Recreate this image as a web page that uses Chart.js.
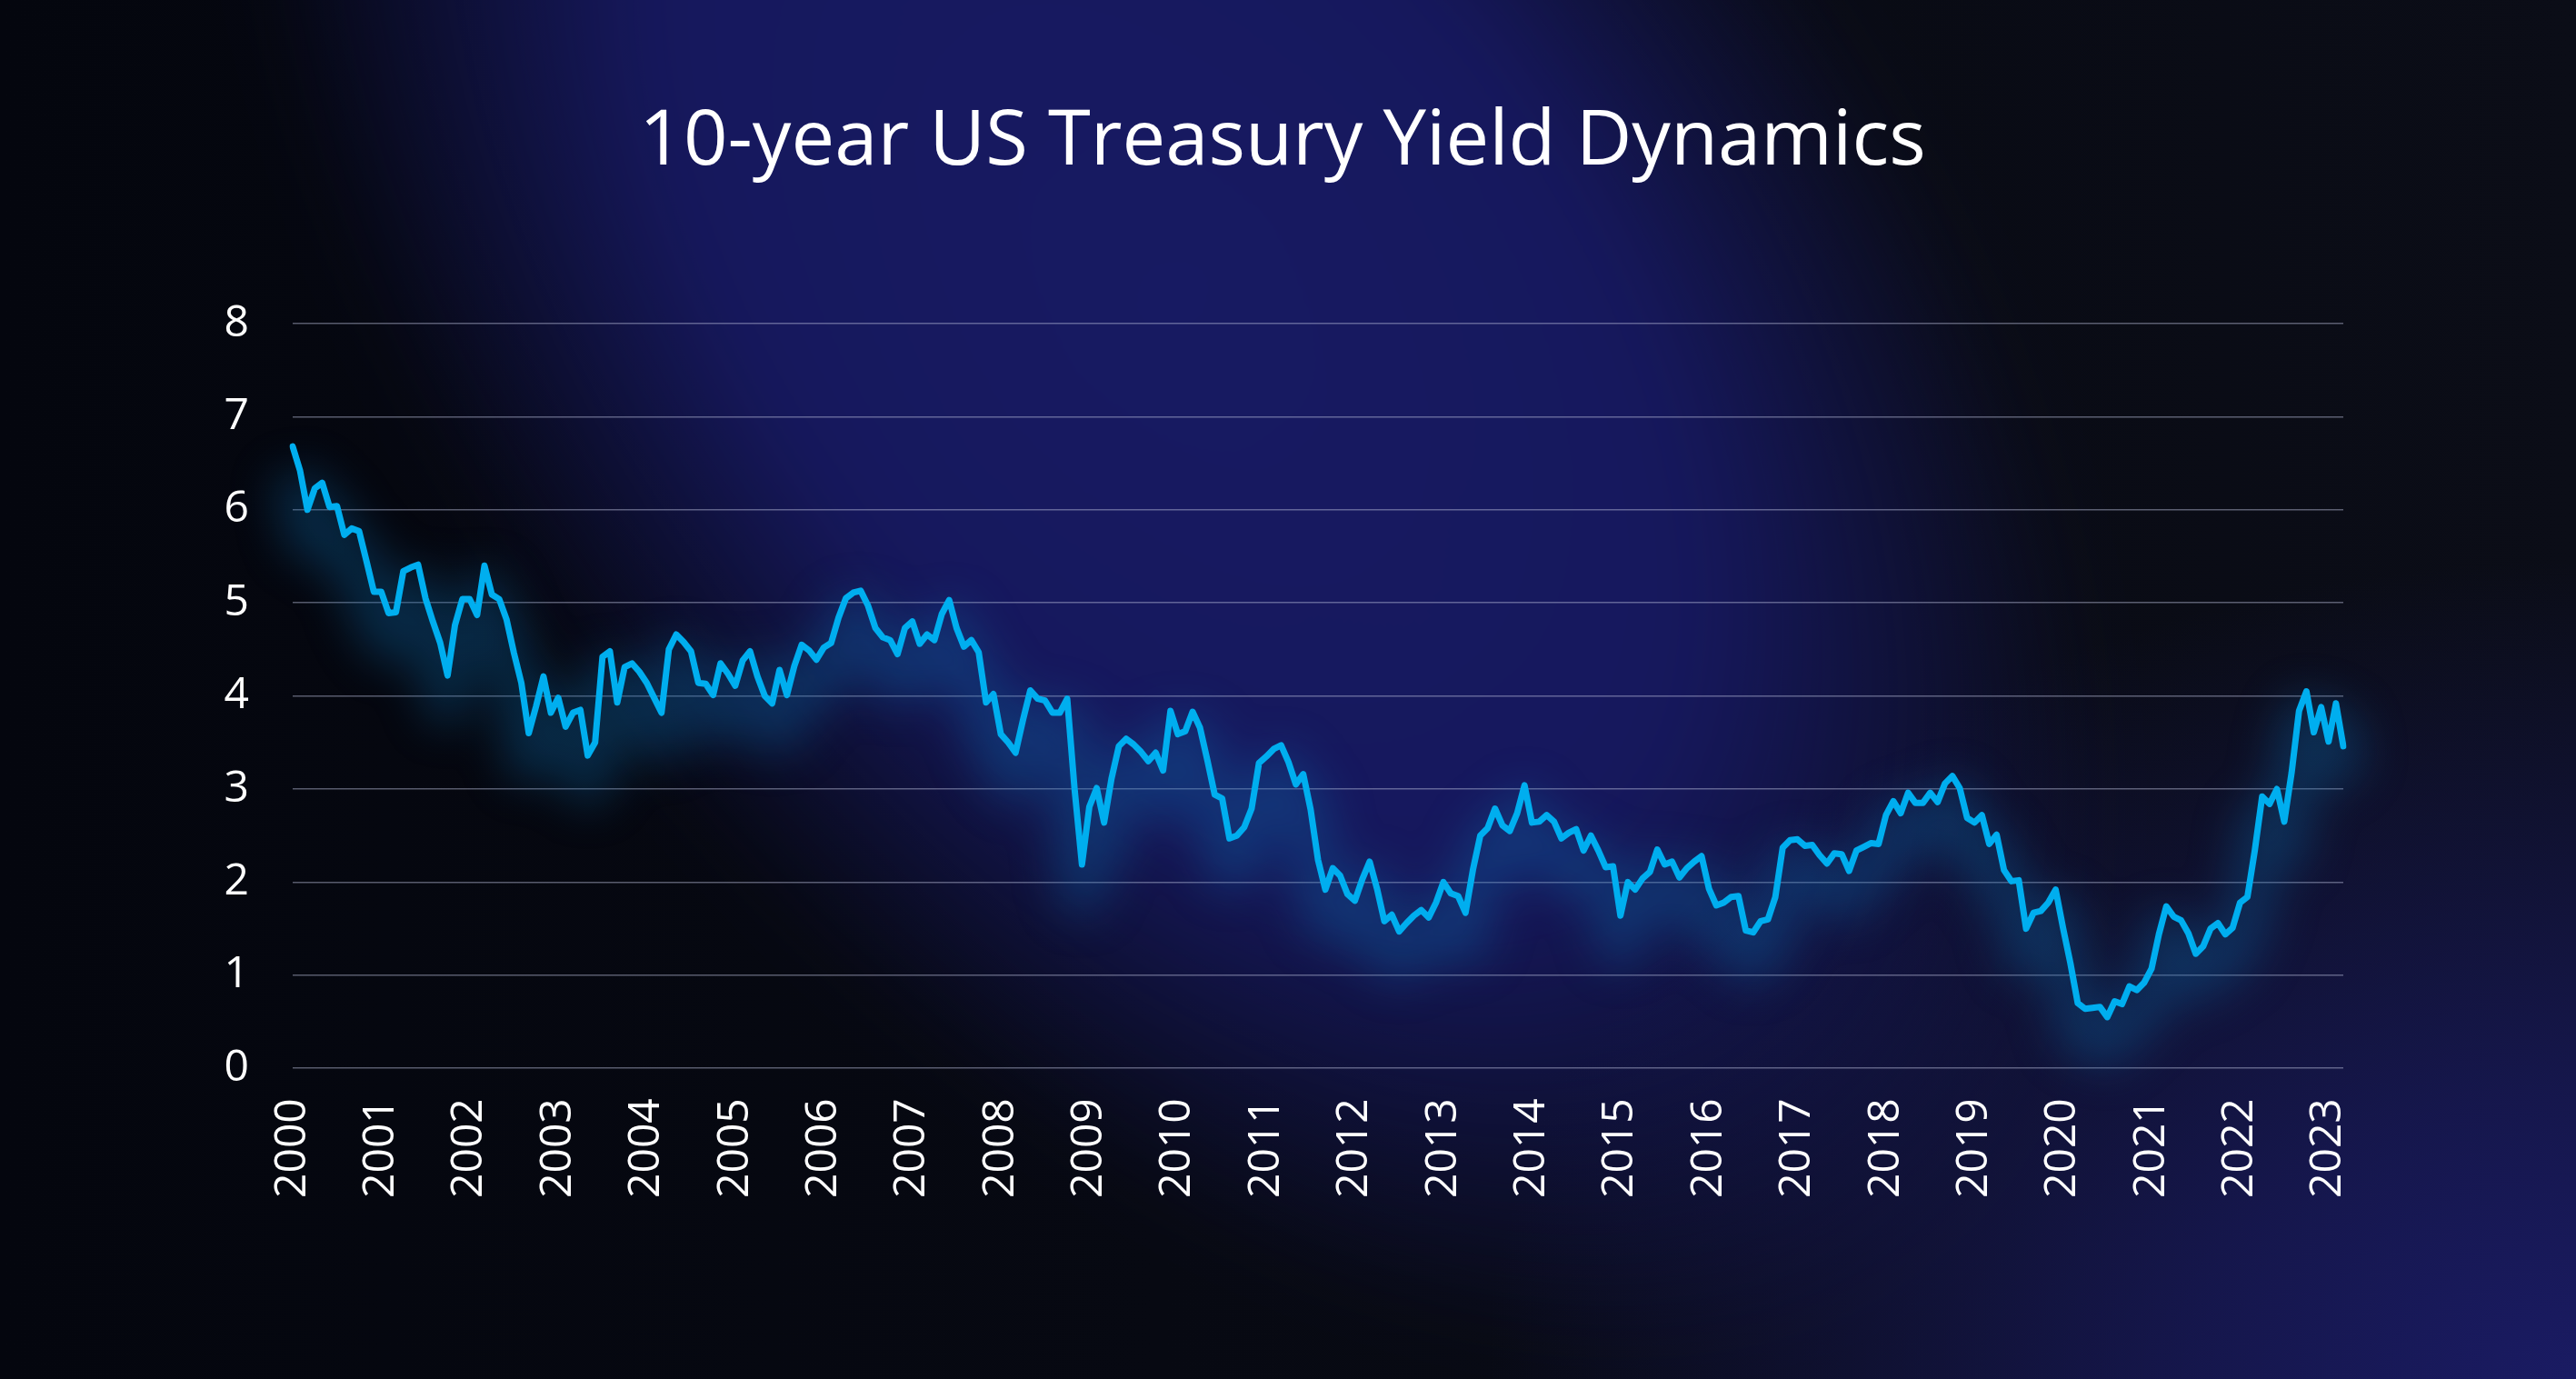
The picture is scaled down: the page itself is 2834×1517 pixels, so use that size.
<!DOCTYPE html>
<html>
<head>
<meta charset="utf-8">
<title>10-year US Treasury Yield Dynamics</title>
<script src="https://cdn.jsdelivr.net/npm/chart.js@4.4.0/dist/chart.umd.min.js"></script>
<style>
  html, body { margin: 0; padding: 0; background: #05070f; }
  #wrap {
    position: relative; width: 2834px; height: 1517px; overflow: hidden;
    background: linear-gradient(90deg, #04060e 0%, #070912 45%, #0b0d17 100%);
  }
  .band {
    position: absolute; left: -60px; top: -450px; width: 2700px; height: 1550px;
    background: radial-gradient(ellipse closest-side, #171a62 0%, #16185d 55%, rgba(22,24,92,0) 100%);
    transform: rotate(52deg);
    filter: blur(40px);
  }
  .corner {
    position: absolute; left: 1634px; top: 617px; width: 2400px; height: 1800px;
    background: radial-gradient(ellipse closest-side, #1a1b63 0%, rgba(26,27,99,0.7) 35%, rgba(26,27,99,0) 100%);
  }
  canvas { position: absolute; left: 0; top: 0; }
</style>
</head>
<body>
<div id="wrap">
  <div class="band"></div>
  <div class="corner"></div>
  <canvas id="chart" width="2834" height="1517"></canvas>
</div>
<script>
// tick labels on the x axis (one per January)
var yearLabels = ['2000','2001','2002','2003','2004','2005','2006','2007','2008','2009','2010','2011',
                  '2012','2013','2014','2015','2016','2017','2018','2019','2020','2021','2022','2023'];
var monthCodes = ['01','02','03','04','05','06','07','08','09','10','11','12'];

// month-end 10y yield, %, Jan 2000 .. Mar 2023
var yields = [
  6.68, 6.42, 6.00, 6.23, 6.29, 6.03, 6.04, 5.73, 5.80, 5.77, 5.45, 5.12,  // 2000
  5.12, 4.89, 4.90, 5.34, 5.38, 5.41, 5.05, 4.80, 4.57, 4.22, 4.76, 5.04,  // 2001
  5.04, 4.87, 5.40, 5.09, 5.04, 4.82, 4.46, 4.14, 3.60, 3.89, 4.21, 3.82,  // 2002
  3.98, 3.67, 3.82, 3.85, 3.36, 3.50, 4.42, 4.48, 3.93, 4.31, 4.35, 4.26,  // 2003
  4.14, 3.98, 3.82, 4.50, 4.66, 4.58, 4.48, 4.14, 4.13, 4.01, 4.35, 4.24,  // 2004
  4.11, 4.38, 4.48, 4.21, 4.00, 3.92, 4.28, 4.01, 4.32, 4.55, 4.49, 4.39,  // 2005
  4.52, 4.57, 4.84, 5.05, 5.11, 5.13, 4.97, 4.73, 4.63, 4.60, 4.45, 4.73,  // 2006
  4.80, 4.56, 4.66, 4.60, 4.88, 5.03, 4.73, 4.53, 4.60, 4.47, 3.93, 4.02,  // 2007
  3.59, 3.50, 3.39, 3.74, 4.06, 3.97, 3.95, 3.82, 3.82, 3.97, 3.00, 2.19,  // 2008
  2.81, 3.01, 2.64, 3.11, 3.46, 3.54, 3.48, 3.40, 3.30, 3.39, 3.20, 3.84,  // 2009
  3.59, 3.62, 3.83, 3.66, 3.31, 2.94, 2.90, 2.47, 2.50, 2.59, 2.79, 3.28,  // 2010
  3.35, 3.43, 3.47, 3.29, 3.05, 3.16, 2.78, 2.24, 1.92, 2.15, 2.07, 1.87,  // 2011
  1.80, 2.03, 2.22, 1.93, 1.58, 1.65, 1.47, 1.56, 1.64, 1.70, 1.62, 1.78,  // 2012
  2.00, 1.88, 1.85, 1.67, 2.13, 2.50, 2.58, 2.79, 2.61, 2.55, 2.74, 3.04,  // 2013
  2.64, 2.65, 2.72, 2.65, 2.47, 2.53, 2.57, 2.34, 2.50, 2.34, 2.16, 2.17,  // 2014
  1.64, 2.00, 1.92, 2.04, 2.11, 2.35, 2.19, 2.22, 2.05, 2.15, 2.22, 2.28,  // 2015
  1.93, 1.75, 1.78, 1.84, 1.85, 1.48, 1.46, 1.58, 1.60, 1.84, 2.37, 2.45,  // 2016
  2.46, 2.39, 2.40, 2.29, 2.20, 2.31, 2.30, 2.12, 2.34, 2.38, 2.42, 2.41,  // 2017
  2.72, 2.87, 2.74, 2.96, 2.85, 2.85, 2.96, 2.86, 3.06, 3.14, 3.01, 2.69,  // 2018
  2.64, 2.72, 2.41, 2.51, 2.13, 2.01, 2.02, 1.50, 1.67, 1.69, 1.78, 1.92,  // 2019
  1.51, 1.13, 0.70, 0.64, 0.65, 0.66, 0.55, 0.72, 0.69, 0.88, 0.84, 0.92,  // 2020
  1.07, 1.44, 1.74, 1.63, 1.59, 1.45, 1.23, 1.31, 1.50, 1.56, 1.44, 1.51,  // 2021
  1.78, 1.84, 2.34, 2.92, 2.84, 3.00, 2.65, 3.18, 3.84, 4.05, 3.61, 3.88,  // 2022
  3.51, 3.92, 3.46                                                          // 2023
];

// categories: one per month
var monthLabels = [];
for (var i = 0; i < yearLabels.length; i++) {
  for (var j = 0; j < 12; j++) {
    if (monthLabels.length < yields.length) monthLabels.push(yearLabels[i] + '-' + monthCodes[j]);
  }
}

// soft blurred glow under the line, from the line's own points
var glowPlugin = {
  id: 'glow',
  beforeDatasetsDraw: function(chart) {
    var pts = chart.getDatasetMeta(0).data;
    var ctx = chart.ctx;
    ctx.save();
    ctx.filter = 'blur(24px)';
    ctx.strokeStyle = 'rgba(12,105,170,0.34)';
    ctx.lineWidth = 50;
    ctx.lineJoin = 'round';
    ctx.beginPath();
    for (var k = 0; k < pts.length; k++) {
      if (k == 0) ctx.moveTo(pts[k].x, pts[k].y + 30);
      else ctx.lineTo(pts[k].x, pts[k].y + 30);
    }
    ctx.stroke();
    ctx.restore();
  }
};

var ctx = document.getElementById('chart').getContext('2d');
var chart = new Chart(ctx, {
  type: 'line',
  data: {
    labels: monthLabels,
    datasets: [{
      label: '10-year yield',
      data: yields,
      borderColor: '#00aeef',
      borderWidth: 7,
      borderJoinStyle: 'round',
      borderCapStyle: 'round',
      pointRadius: 0,
      tension: 0,
      fill: false
    }]
  },
  options: {
    responsive: false,
    devicePixelRatio: 1,
    animation: false,
    layout: { padding: { left: 244, right: 256, top: 0, bottom: 166 } },
    plugins: {
      legend: { display: false },
      tooltip: { enabled: false },
      title: {
        display: true,
        text: '10-year US Treasury Yield Dynamics',
        color: '#ffffff',
        font: { family: 'Open Sans', size: 85, weight: '400', lineHeight: 1.2 },
        padding: { top: 106, bottom: 148 }
      }
    },
    scales: {
      x: {
        grid: { display: false, drawTicks: false },
        border: { display: false },
        ticks: {
          autoSkip: false,
          minRotation: 90,
          maxRotation: 90,
          padding: 33,
          color: '#ffffff',
          font: { family: 'Open Sans', size: 48 },
          callback: function(value) {
            var lab = this.getLabelForValue(value);
            return lab.slice(5) == '01' ? lab.slice(0, 4) : null;
          }
        }
      },
      y: {
        min: 0,
        max: 8,
        grid: { color: 'rgba(190,195,225,0.45)', lineWidth: 1.5, drawTicks: false },
        border: { display: false },
        afterFit: function(scale) { scale.width = 78; },
        ticks: {
          stepSize: 1,
          padding: 48,
          color: '#ffffff',
          font: { family: 'Open Sans', size: 48 }
        }
      }
    }
  },
  plugins: [glowPlugin]
});
</script>
</body>
</html>
